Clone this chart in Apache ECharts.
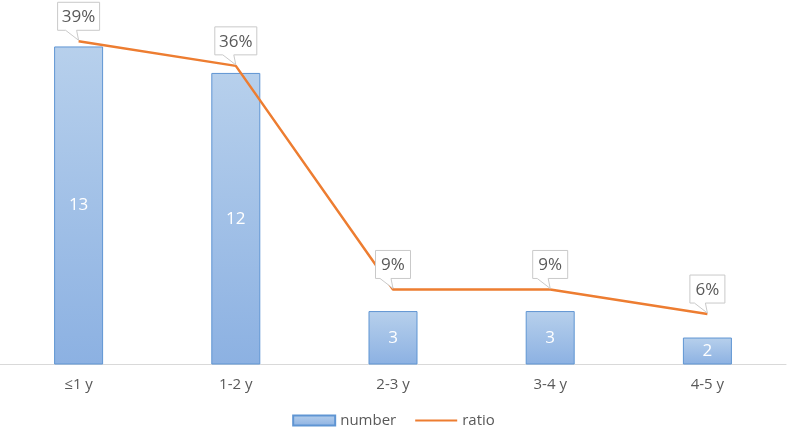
<!DOCTYPE html>
<html>
<head>
<meta charset="utf-8">
<script src="https://cdn.jsdelivr.net/npm/echarts@6/dist/echarts.min.js"></script>
<style>
  html, body { margin: 0; padding: 0; background: #fff; }
  .main { width: 787px; height: 435px; }
</style>
</head>
<body>
<div class="main" id="main"></div>
<script>
// chart data
let categories = ['≤1 y', '1-2 y', '2-3 y', '3-4 y', '4-5 y'];
let numberValues = [13, 12, 3, 3, 2];
let ratioValues = [0.394, 0.364, 0.091, 0.091, 0.061];
let ratioLabels = ['39%', '36%', '9%', '9%', '6%'];

let myChart = echarts.init(document.getElementById('main'));
let fontFamily = '"Open Sans", "Liberation Sans", sans-serif';

// Excel-like callout boxes for the ratio line
let calloutItem = function (params, api) {
    let idx = api.value(0);
    let p = api.coord([idx, api.value(1)]);
    let text = ratioLabels[params.dataIndex];
    let w = text.length * 7 + 21;
    let h = 28;
    let x = p[0], y = p[1];
    let B = y - 11, T = B - h, L = x - w / 2, R = x + w / 2;
    return {
        type: 'group',
        children: [
            {
                type: 'polygon',
                shape: {
                    points: [[L, T], [R, T], [R, B], [x - 2, B], [x, y - 1], [x - 13, B], [L, B]]
                },
                style: { fill: '#fff', stroke: '#c9c9c9', lineWidth: 1 }
            },
            {
                type: 'text',
                x: x,
                y: T + h / 2 + 1,
                style: {
                    text: text,
                    fill: '#595959',
                    font: '17px ' + fontFamily,
                    align: 'center',
                    verticalAlign: 'middle'
                }
            }
        ]
    };
};

let options = {
    animation: false,
    textStyle: { fontFamily: fontFamily },
    grid: { left: 0, right: 1, top: 20, bottom: 71, containLabel: false },
    legend: {
        bottom: 2,
        left: 'center',
        itemWidth: 42,
        itemHeight: 10,
        itemGap: 18,
        textStyle: { color: '#595959', fontSize: 15, fontFamily: fontFamily },
        data: [
            { name: 'number', icon: 'rect' },
            { name: 'ratio', itemStyle: { opacity: 0 } }
        ]
    },
    xAxis: {
        type: 'category',
        data: categories,
        axisTick: { show: false },
        axisLine: { lineStyle: { color: '#d9d9d9', width: 1 } },
        axisLabel: { color: '#595959', fontSize: 15, margin: 13 }
    },
    yAxis: [
        { type: 'value', min: 1, max: 14, show: false, splitLine: { show: false } },
        { type: 'value', min: 0, max: 0.42, show: false, splitLine: { show: false } }
    ],
    series: [
        {
            name: 'number',
            type: 'bar',
            barWidth: 49,
            data: numberValues,
            itemStyle: {
                color: {
                    type: 'linear', x: 0, y: 0, x2: 0, y2: 1,
                    colorStops: [
                        { offset: 0, color: '#b7d0ec' },
                        { offset: 1, color: '#8cb1e2' }
                    ]
                },
                borderColor: '#5f95d3',
                borderWidth: 1
            },
            label: {
                show: true,
                position: 'inside',
                color: '#fff',
                fontSize: 17,
                fontFamily: fontFamily
            }
        },
        {
            name: 'ratio',
            type: 'line',
            yAxisIndex: 1,
            data: ratioValues,
            symbol: 'none',
            lineStyle: { color: '#ed7d31', width: 2.5 },
            itemStyle: { color: '#ed7d31' },
            z: 3
        },
        {
            name: 'ratioLabels',
            type: 'custom',
            yAxisIndex: 1,
            renderItem: calloutItem,
            data: ratioValues.map(function (v, i) { return [i, v]; }),
            encode: { x: 0, y: 1 },
            clip: false,
            silent: true,
            z: 4
        }
    ]
};

myChart.setOption(options);
</script>
</body>
</html>
